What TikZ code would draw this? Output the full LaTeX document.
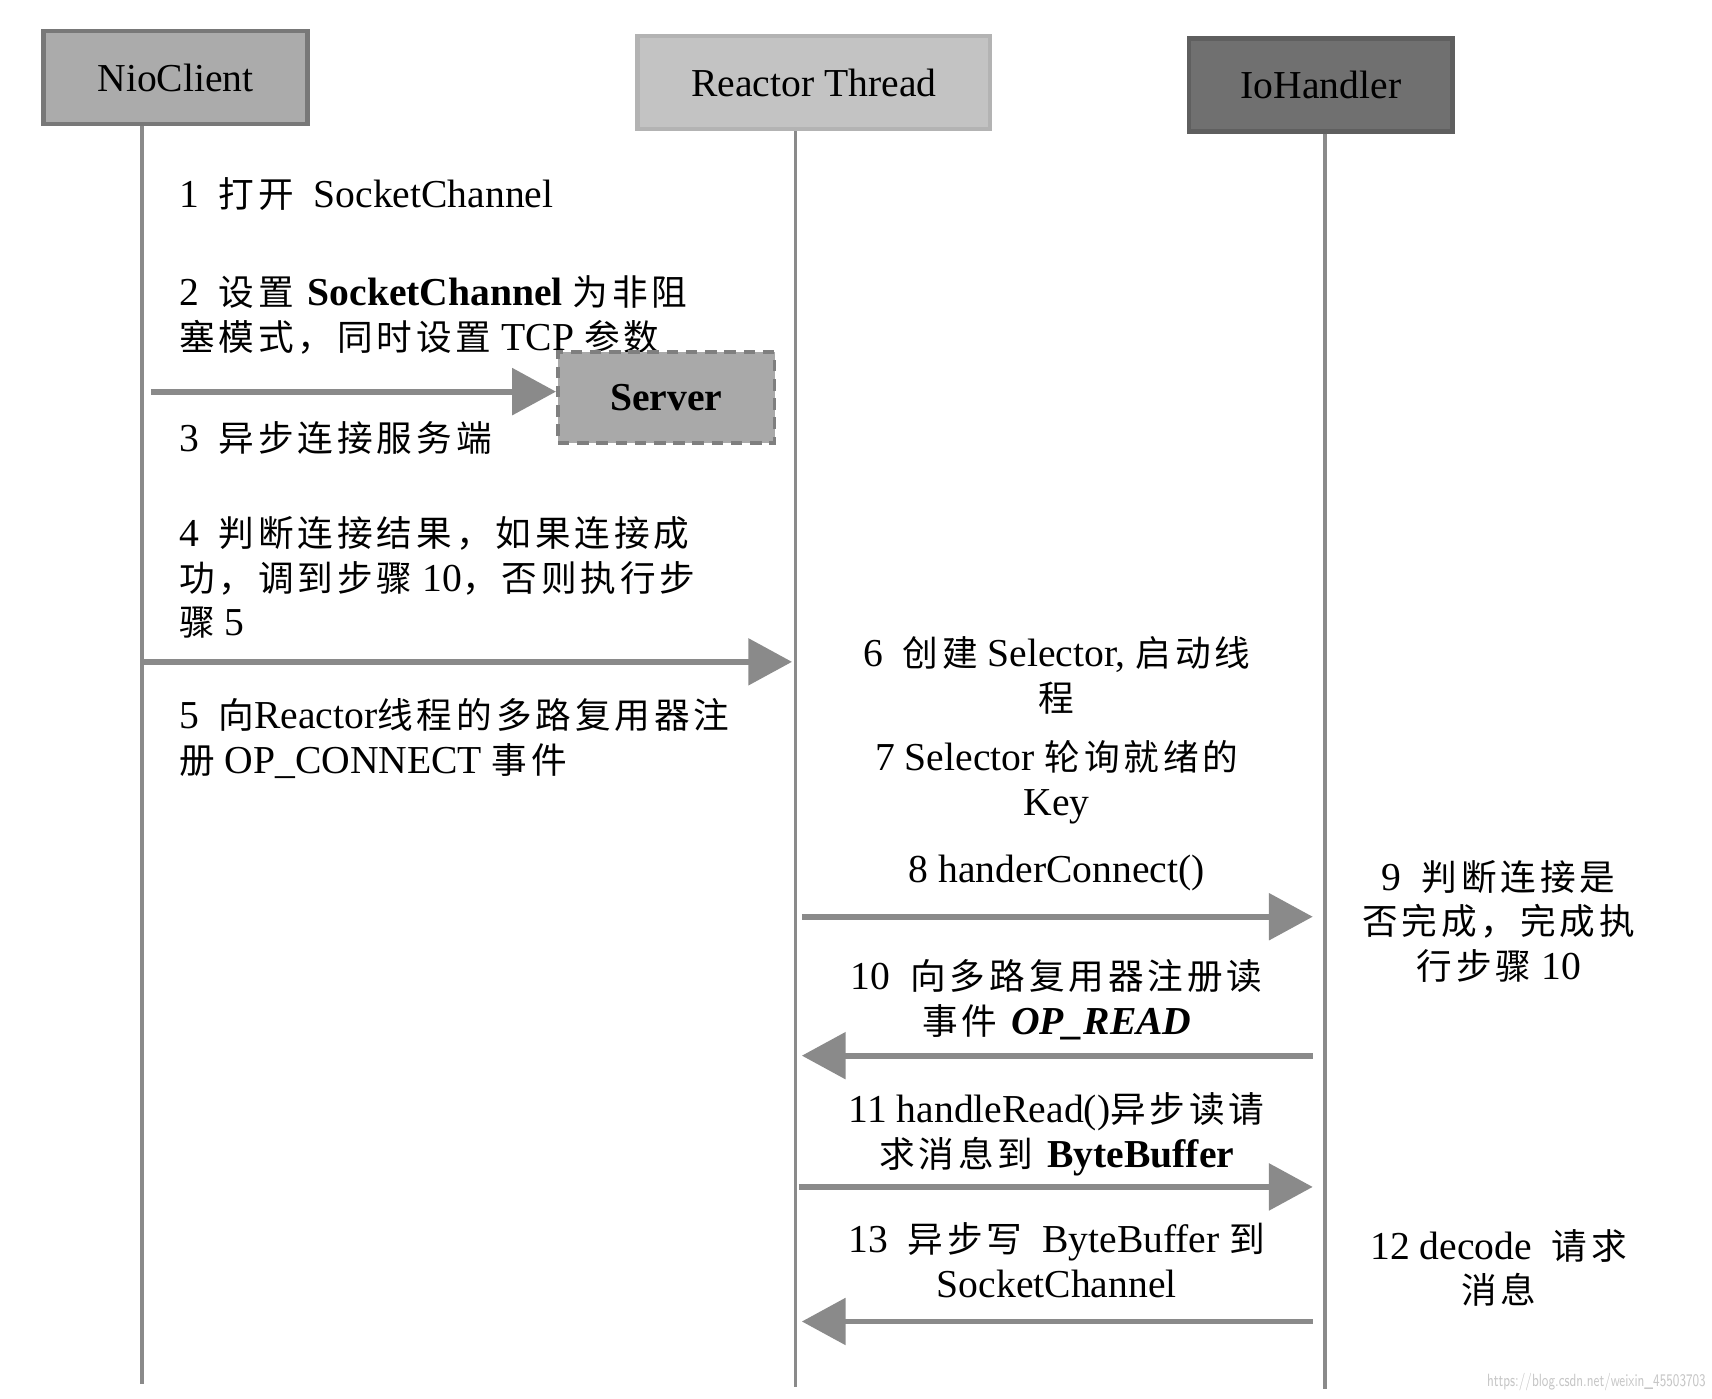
\documentclass[tikz,border=0pt]{standalone}
\usepackage{fontspec}
\setmainfont{Liberation Serif}
\newfontfamily\cjk[Scale=0.9,LetterSpace=11]{Noto Sans CJK SC}
\usepackage{tikz}
\usetikzlibrary{arrows.meta,positioning}
\newcommand{\zh}[1]{{\cjk #1}}
\definecolor{clientgray}{HTML}{ABABAB}
\definecolor{reactorgray}{HTML}{C3C3C3}
\definecolor{handlergray}{HTML}{707070}
\definecolor{servergray}{HTML}{A9A9A9}
\definecolor{linegray}{HTML}{8A8A8A}

\begin{document}
\begin{tikzpicture}[
    every node/.style={inner sep=0pt,font=\fontsize{10.3}{11.6}\selectfont},
    role/.style={minimum height=0.85cm,line width=1.2pt},
    life/.style={draw=linegray,line width=0.9pt},
    msg/.style={draw=linegray,line width=1.5pt,-{Triangle[length=0.4cm,width=0.42cm]}},
    txt/.style={align=left,anchor=west},
    mid/.style={align=center}
  ]
    \useasboundingbox (0,0) rectangle (15.65,-12.78);

    \node [role,fill=clientgray,draw=clientgray!70!black,minimum width=2.41cm] (nio) at (1.605,-0.71) {NioClient};
    \node [role,fill=reactorgray,draw=reactorgray!92!black,minimum width=3.22cm] (reactor) at (7.44,-0.755) {Reactor Thread};
    \node [role,fill=handlergray,draw=handlergray!85!black,minimum width=2.41cm] (io) at (12.075,-0.775) {IoHandler};

    \coordinate (nioEnd) at (1.30,-12.65);
    \coordinate (reactorEnd) at (7.27,-12.68);
    \coordinate (ioEnd) at (12.11,-12.70);
    \draw [life] (nio.south -| nioEnd) -- (nioEnd);
    \draw [life] (reactor.south -| reactorEnd) -- (reactorEnd);
    \draw [life] (io.south -| ioEnd) -- (ioEnd);

    \node [txt] (1) at (1.63,-1.77) {1\enskip\zh{打开}\enskip SocketChannel};
    \node [txt] (2) at (1.63,-2.88) {2\enskip\zh{设置} \textbf{SocketChannel} \zh{为非阻}\\\zh{塞模式，同时设置} TCP \zh{参数}};
    \node [role,fill=servergray,draw=servergray!75!black,densely dashed,line width=1pt,minimum width=1.98cm,minimum height=0.83cm] (server) at (6.09,-3.635) {\textbf{Server}};
    \node [txt] (3) at (1.63,-4.00) {3\enskip\zh{异步连接服务端}};
    \node [txt] (4) at (1.63,-5.28) {4\enskip\zh{判断连接结果，如果连接成}\\\zh{功，调到步骤} 10\zh{，否则执行步}\\\zh{骤} 5};
    \node [txt] (5) at (1.63,-6.75) {5\enskip\zh{向}Reactor\zh{线程的多路复用器注}\\\zh{册} OP\_CONNECT \zh{事件}};

    \node [mid] (6) at (9.66,-6.175) {6\enskip\zh{创建} Selector, \zh{启动线}\\\zh{程}};
    \node [mid] (7) at (9.66,-7.15) {7 Selector \zh{轮询就绪的}\\Key};
    \node [mid] (8) at (9.66,-7.98) {8 handerConnect()};
    \node [mid] (9) at (13.70,-8.42) {9\enskip\zh{判断连接是}\\\zh{否完成，完成执}\\\zh{行步骤} 10};
    \node [mid] (10) at (9.66,-9.14) {10\enskip\zh{向多路复用器注册读}\\\zh{事件} \textbf{\textit{OP\_READ}}};
    \node [mid] (11) at (9.66,-10.37) {11 handleRead()\zh{异步读请}\\\zh{求消息到} \textbf{ByteBuffer}};
    \node [mid] (12) at (13.70,-11.59) {12 decode\enskip\zh{请求}\\\zh{消息}};
    \node [mid] (13) at (9.66,-11.52) {13\enskip\zh{异步写}\enskip ByteBuffer \zh{到}\\SocketChannel};

    \coordinate (m3) at (1.38,-3.58);
    \coordinate (m4a) at (1.30,-6.05);
    \coordinate (m4b) at (7.24,-6.05);
    \coordinate (m8a) at (7.33,-8.38);
    \coordinate (m8b) at (12.00,-8.38);
    \coordinate (m10a) at (12.00,-9.65);
    \coordinate (m10b) at (7.33,-9.65);
    \coordinate (m11a) at (7.30,-10.85);
    \coordinate (m11b) at (12.00,-10.85);
    \coordinate (m13a) at (12.00,-12.08);
    \coordinate (m13b) at (7.33,-12.08);
    \draw [msg] (m3) -- (m3 -| server.west);
    \draw [msg] (m4a) -- (m4b);
    \draw [msg] (m8a) -- (m8b);
    \draw [msg] (m10a) -- (m10b);
    \draw [msg] (m11a) -- (m11b);
    \draw [msg] (m13a) -- (m13b);

    \node [anchor=south east,text=gray!45,font=\sffamily\fontsize{4.6}{5}\selectfont] (mark) at (15.60,-12.72) {\scalebox{0.7}[1]{https://blog.csdn.net/weixin\_45503703}};

  \end{tikzpicture}
\end{document}
